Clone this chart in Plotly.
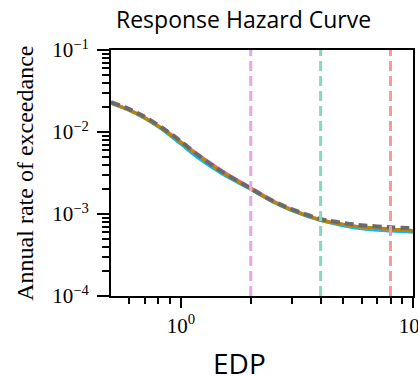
import plotly.graph_objects as go

# EDP values (x)
edp = [0.5, 0.6, 0.7, 0.8, 0.9, 1.0, 1.2, 1.5, 2.0, 2.5, 3.0, 4.0, 5.0, 6.0, 8.0, 10.0]

# annual rate of exceedance for each curve
rate_cyan = [0.0224, 0.0183, 0.0146, 0.0115, 0.0090, 0.0071, 0.0047, 0.0031, 0.00200, 0.00139,
             0.00110, 0.00083, 0.00072, 0.00066, 0.00062, 0.00060]
rate_pink = [0.0227, 0.0186, 0.0150, 0.0119, 0.0095, 0.0076, 0.0052, 0.0034, 0.00210, 0.00145,
             0.00114, 0.00085, 0.00075, 0.00069, 0.00065, 0.00063]
rate_gold = [0.0226, 0.01845, 0.0148, 0.01177, 0.00933, 0.00749, 0.00504, 0.00325, 0.00203, 0.00141,
             0.00112, 0.000845, 0.000747, 0.000692, 0.000653, 0.000625]
rate_gray = [0.0232, 0.0190, 0.0153, 0.0121, 0.0096, 0.0077, 0.0051, 0.0033, 0.00205, 0.00144,
             0.00115, 0.00087, 0.00078, 0.00073, 0.00069, 0.00067]

# vertical threshold lines
thresholds = [2, 4, 8]
threshold_colors = ["#e4a8e4", "#88d8ba", "#f29c9c"]

x_major = [1, 10]
x_major_text = ["10<sup>0</sup>", "10<sup>1</sup>"]
x_minor = [0.6, 0.7, 0.8, 0.9, 2, 3, 4, 5, 6, 7, 8, 9]
y_major = [1e-4, 1e-3, 1e-2, 1e-1]
y_major_text = ["10<sup>−4</sup>", "10<sup>−3</sup>", "10<sup>−2</sup>", "10<sup>−1</sup>"]
y_minor = [m * 10.0 ** e for e in (-4, -3, -2) for m in range(2, 10)]

title_text = "Response Hazard Curve"
x_title = "EDP"
y_title = "Annual rate of exceedance"

fig = go.Figure()
series = [
    (rate_cyan, dict(color="#00bfff", width=3)),
    (rate_pink, dict(color="#ff69b4", width=3)),
    (rate_gold, dict(color="#b8860b", width=3.5)),
    (rate_gray, dict(color="#6a6a6a", width=4, dash="9px,5px")),
]
for ys, ln in series:
    fig.add_trace(go.Scatter(x=edp, y=ys, mode="lines", line=dict(shape="spline", **ln),
                             showlegend=False, hoverinfo="skip"))

for xv, col in zip(thresholds, threshold_colors):
    fig.add_shape(type="line", xref="x", yref="paper", x0=xv, x1=xv, y0=0, y1=1,
                  line=dict(color=col, width=3, dash="10px,5px"), layer="above")

serif = "Liberation Serif, Times New Roman, serif"
sans = "Open Sans, Noto Sans, sans-serif"

fig.update_layout(
    width=418, height=376,
    margin=dict(l=111, r=5, t=50, b=80),
    paper_bgcolor="white", plot_bgcolor="white",
    xaxis=dict(
        type="log", range=[-0.30103, 1.0000001], showgrid=False, zeroline=False,
        showline=True, linecolor="black", linewidth=2, mirror=True,
        tickmode="array", tickvals=x_major, ticktext=x_major_text,
        ticks="outside", ticklen=10, tickwidth=1.5, tickcolor="black",
        tickfont=dict(family=serif, size=21, color="black"),
        ticklabeloverflow="allow",
        minor=dict(tickmode="array", tickvals=x_minor, ticks="outside", ticklen=6,
                   tickwidth=1.5, tickcolor="black", showgrid=False),
        automargin=False,
    ),
    yaxis=dict(
        type="log", range=[-4, -1], showgrid=False, zeroline=False,
        showline=True, linecolor="black", linewidth=2, mirror=True,
        tickmode="array", tickvals=y_major, ticktext=y_major_text,
        ticks="outside", ticklen=12, tickwidth=1.5, tickcolor="black",
        tickfont=dict(family=serif, size=21, color="black"),
        ticklabelstandoff=4,
        minor=dict(tickmode="array", tickvals=y_minor, ticks="outside", ticklen=7,
                   tickwidth=1.5, tickcolor="black", showgrid=False),
        automargin=False,
    ),
    annotations=[
        dict(text=title_text, xref="paper", yref="paper", x=0.4385, y=1.125,
             xanchor="center", yanchor="middle", showarrow=False,
             font=dict(family=sans, size=23, color="black")),
        dict(text=x_title, xref="paper", yref="paper", x=0.425, y=-0.274,
             xanchor="center", yanchor="middle", showarrow=False,
             font=dict(family=sans, size=28, color="black")),
        dict(text=y_title, xref="paper", yref="paper", x=-0.2857, y=0.5,
             xanchor="center", yanchor="middle", showarrow=False, textangle=-90,
             font=dict(family=serif, size=24, color="black")),
    ],
)

fig.write_html("out.html")
